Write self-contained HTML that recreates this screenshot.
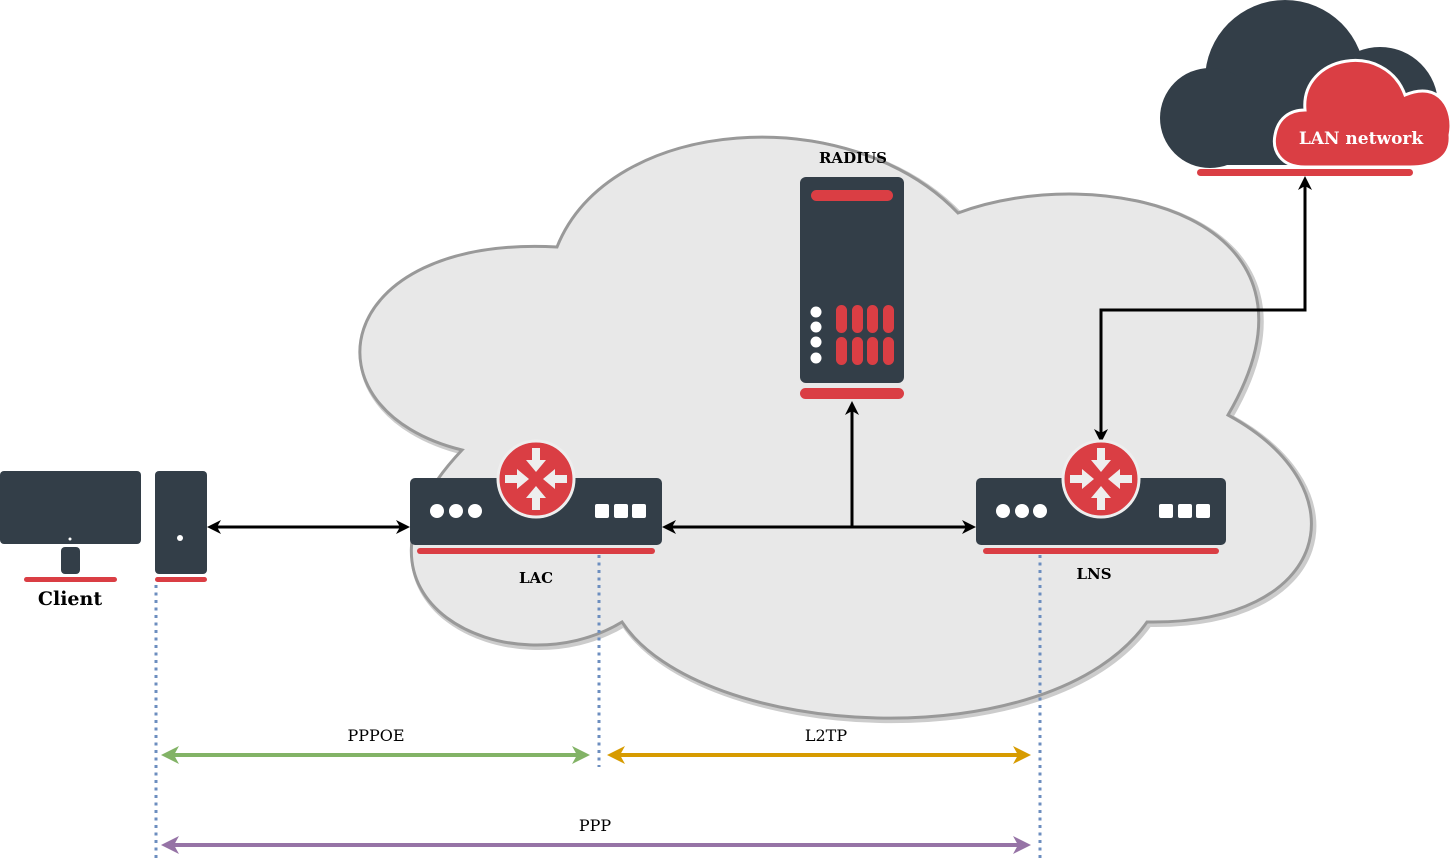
<!DOCTYPE html>
<html><head><meta charset="utf-8"><style>html,body{margin:0;padding:0;background:#fff}svg{display:block}</style></head>
<body>
<svg width="1451" height="861" viewBox="0 0 1451 861" xmlns="http://www.w3.org/2000/svg" font-family="'DejaVu Serif','Liberation Serif',serif">
<!-- big cloud -->
<path d="M557,247 C610,115 850,100 958,213 C1100,160 1345,215 1228,415 C1365,490 1330,625 1147,622 C1050,760 700,740 622,622 C510,690 320,600 462,450 C300,410 330,235 557,247 Z" fill="none" stroke="#ccc" stroke-width="6" transform="translate(2,2)"/>
<path d="M557,247 C610,115 850,100 958,213 C1100,160 1345,215 1228,415 C1365,490 1330,625 1147,622 C1050,760 700,740 622,622 C510,690 320,600 462,450 C300,410 330,235 557,247 Z" fill="#e8e8e8" stroke="#999" stroke-width="3"/>

<!-- LAN cloud icon -->
<g fill="#333e48">
<circle cx="1285" cy="80" r="80"/>
<circle cx="1210" cy="118" r="50"/>
<circle cx="1380" cy="105" r="58"/>
<rect x="1210" y="100" width="170" height="65"/>
</g>
<g fill="#da3e44" stroke="#fff" stroke-width="3">
<path d="M1305,110 C1300,55 1385,40 1405,95 C1440,80 1455,110 1450,135 C1452,160 1430,167 1410,167 L1305,167 C1280,167 1272,150 1275,135 C1278,118 1290,110 1305,110 Z"/>
</g>
<text x="1361" y="144" fill="#fff" font-size="17" font-weight="bold" text-anchor="middle">LAN network</text>
<rect x="1197" y="169" width="216" height="7" rx="3.5" fill="#da3e44"/>

<!-- RADIUS -->
<text x="853" y="163" font-size="15" font-weight="bold" text-anchor="middle">RADIUS</text>
<rect x="800" y="177" width="104" height="206" rx="6" fill="#333e48"/>
<rect x="811" y="190" width="82" height="11" rx="5.5" fill="#da3e44"/>
<g fill="#fff"><circle cx="816" cy="312" r="5.5"/><circle cx="816" cy="327" r="5.5"/><circle cx="816" cy="342" r="5.5"/><circle cx="816" cy="358" r="5.5"/></g>
<g fill="#da3e44">
<rect x="836" y="305" width="11" height="28" rx="5.5"/><rect x="852" y="305" width="11" height="28" rx="5.5"/><rect x="867" y="305" width="11" height="28" rx="5.5"/><rect x="883" y="305" width="11" height="28" rx="5.5"/>
<rect x="836" y="337" width="11" height="28" rx="5.5"/><rect x="852" y="337" width="11" height="28" rx="5.5"/><rect x="867" y="337" width="11" height="28" rx="5.5"/><rect x="883" y="337" width="11" height="28" rx="5.5"/>
<rect x="800" y="388" width="104" height="11" rx="5.5"/>
</g>

<!-- connectors black -->
<g stroke="#000" stroke-width="3" fill="none">
<line x1="215" y1="527" x2="402" y2="527"/>
<line x1="670" y1="527" x2="968" y2="527"/>
<line x1="852" y1="527" x2="852" y2="410"/>
<polyline points="1101,435 1101,310 1305,310 1305,185"/>
</g>
<g fill="#000">
<polygon points="207,527 221,520 217,527 221,534"/>
<polygon points="410,527 396,520 400,527 396,534"/>
<polygon points="662,527 676,520 672,527 676,534"/>
<polygon points="976,527 962,520 966,527 962,534"/>
<polygon points="852,401 845,415 852,411 859,415"/>
<polygon points="1101,443 1094,429 1101,433 1108,429"/>
<polygon points="1305,176 1298,190 1305,186 1312,190"/>
</g>

<!-- LAC -->
<rect x="410" y="478" width="252" height="67" rx="5" fill="#333e48"/>
<g fill="#fff"><circle cx="437" cy="511" r="7"/><circle cx="456" cy="511" r="7"/><circle cx="475" cy="511" r="7"/>
<rect x="595" y="504" width="14" height="14" rx="2"/><rect x="614" y="504" width="14" height="14" rx="2"/><rect x="632" y="504" width="14" height="14" rx="2"/></g>
<rect x="417" y="548" width="238" height="6" rx="3" fill="#da3e44"/>
<text x="536" y="583" font-size="15" font-weight="bold" text-anchor="middle">LAC</text>
<g id="rt">
<circle cx="536" cy="479" r="38" fill="#da3e44" stroke="#eee" stroke-width="3"/>
<g fill="#eee">
<polygon points="532,448 540,448 540,460 546,460 536,472 526,460 532,460"/>
<polygon points="532,510 540,510 540,498 546,498 536,486 526,498 532,498"/>
<polygon points="505,475 505,483 517,483 517,489 529,479 517,469 517,475"/>
<polygon points="567,475 567,483 555,483 555,489 543,479 555,469 555,475"/>
</g>
</g>

<!-- LNS -->
<rect x="976" y="478" width="250" height="67" rx="5" fill="#333e48"/>
<g fill="#fff"><circle cx="1003" cy="511" r="7"/><circle cx="1022" cy="511" r="7"/><circle cx="1040" cy="511" r="7"/>
<rect x="1159" y="504" width="14" height="14" rx="2"/><rect x="1178" y="504" width="14" height="14" rx="2"/><rect x="1196" y="504" width="14" height="14" rx="2"/></g>
<rect x="983" y="548" width="236" height="6" rx="3" fill="#da3e44"/>
<text x="1094" y="579" font-size="15" font-weight="bold" text-anchor="middle">LNS</text>
<use href="#rt" transform="translate(565,0)"/>

<!-- Client -->
<rect x="0" y="471" width="141" height="73" rx="4" fill="#333e48"/>
<circle cx="70" cy="539" r="1.5" fill="#fff"/>
<rect x="61" y="547" width="19" height="27" rx="4" fill="#333e48"/>
<rect x="24" y="577" width="93" height="5" rx="2.5" fill="#da3e44"/>
<rect x="155" y="471" width="52" height="103" rx="4" fill="#333e48"/>
<circle cx="180" cy="538" r="3" fill="#fff"/>
<rect x="155" y="577" width="52" height="5" rx="2.5" fill="#da3e44"/>
<text x="70" y="605" font-size="19" font-weight="bold" text-anchor="middle">Client</text>

<!-- dotted -->
<g stroke="#6c8ebf" stroke-width="3" stroke-dasharray="3,4.5">
<line x1="156" y1="585" x2="156" y2="858"/>
<line x1="599" y1="555" x2="599" y2="767"/>
<line x1="1040" y1="555" x2="1040" y2="858"/>
</g>

<!-- protocol arrows -->
<g stroke-width="4">
<line x1="172" y1="755" x2="578" y2="755" stroke="#82b366"/>
<line x1="620" y1="755" x2="1018" y2="755" stroke="#d79b00"/>
<line x1="172" y1="845" x2="1018" y2="845" stroke="#9673a6"/>
</g>
<g fill="#82b366"><polygon points="161,755 179,746 174,755 179,764"/><polygon points="590,755 572,746 577,755 572,764"/></g>
<g fill="#d79b00"><polygon points="607,755 625,746 620,755 625,764"/><polygon points="1031,755 1013,746 1018,755 1013,764"/></g>
<g fill="#9673a6"><polygon points="161,845 179,836 174,845 179,854"/><polygon points="1031,845 1013,836 1018,845 1013,854"/></g>
<g font-size="16" text-anchor="middle">
<text x="376" y="741">PPPOE</text>
<text x="826" y="741">L2TP</text>
<text x="595" y="831">PPP</text>
</g>
</svg>
</body></html>
